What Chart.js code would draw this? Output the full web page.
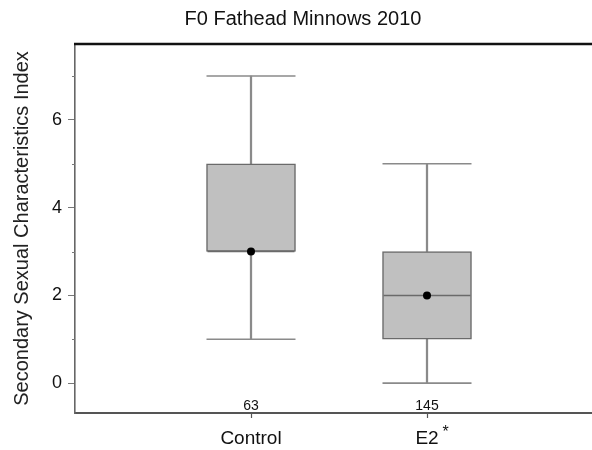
<!DOCTYPE html>
<html>
<head>
<meta charset="utf-8">
<script src="https://cdn.jsdelivr.net/npm/chart.js@4/dist/chart.umd.min.js"></script>
<style>
  html, body { margin: 0; padding: 0; background: #ffffff; }
  canvas { display: block; }
</style>
</head>
<body>
<canvas id="c" width="592" height="450"></canvas>
<script>
// ---- data ----
const chartTitle = 'F0 Fathead Minnows 2010';
const yAxisTitle = 'Secondary Sexual Characteristics Index';
const categories = ['Control', 'E2'];
const sigMarks   = ['', '*'];
const mins       = [1, 0];
const q1s        = [3, 1];
const medians    = [3, 2];
const q3s        = [5, 3];
const maxs       = [7, 5];
const means      = [3, 2];
const counts     = [63, 145];
const yMajorTicks = [0, 2, 4, 6];
const yMinorTicks = [1, 3, 5, 7];

const FONT = 'Liberation Sans, Arial, Helvetica, sans-serif';
const pos = categories.map((c, i) => i + 1);

const lowerWhiskers = pos.map((x, i) => ({ x, y: [mins[i], q1s[i]] }));
const upperWhiskers = pos.map((x, i) => ({ x, y: [q3s[i], maxs[i]] }));
const boxes = pos.map((x, i) => ({ x, y: [q1s[i], q3s[i]] }));
const caps = [];
pos.forEach((x, i) => { caps.push({ x, y: mins[i] }); caps.push({ x, y: maxs[i] }); });
const medianPts = pos.map((x, i) => ({ x, y: medians[i] }));
const meanPts = pos.map((x, i) => ({ x, y: means[i] }));

const BOX_W = 89;

const decorPlugin = {
  id: 'decor',
  afterDraw(chart) {
    const { ctx, chartArea: a, scales } = chart;
    const xs = scales.x, ys = scales.y;
    ctx.save();
    // title
    ctx.fillStyle = '#111';
    ctx.font = '20px ' + FONT;
    ctx.textAlign = 'center';
    ctx.textBaseline = 'middle';
    ctx.fillText(chartTitle, 303, 19);
    // top frame line
    ctx.strokeStyle = '#111';
    ctx.lineWidth = 2.5;
    ctx.beginPath();
    ctx.moveTo(a.left - 1, a.top);
    ctx.lineTo(a.right, a.top);
    ctx.stroke();
    // minor y ticks
    ctx.strokeStyle = '#777';
    ctx.lineWidth = 1;
    yMinorTicks.forEach(v => {
      const y = Math.round(ys.getPixelForValue(v)) + 0.5;
      ctx.beginPath();
      ctx.moveTo(a.left - 3, y);
      ctx.lineTo(a.left, y);
      ctx.stroke();
    });
    // counts
    ctx.fillStyle = '#111';
    ctx.font = '14px ' + FONT;
    ctx.textBaseline = 'alphabetic';
    counts.forEach((n, i) => {
      ctx.fillText(String(n), xs.getPixelForValue(pos[i]), a.bottom - 3);
    });
    // significance marks
    ctx.textAlign = 'left';
    sigMarks.forEach((m, i) => {
      if (!m) return;
      ctx.font = '19px ' + FONT;
      const lw = ctx.measureText(categories[i]).width;
      ctx.font = '16px ' + FONT;
      ctx.fillText(m, xs.getPixelForValue(pos[i]) + lw / 2 + 4, a.bottom + 24);
    });
    ctx.restore();
  }
};

new Chart(document.getElementById('c'), {
  type: 'bar',
  data: {
    datasets: [
      { type: 'bar', data: lowerWhiskers, backgroundColor: '#8a8a8a', barThickness: 1.6, grouped: false, order: 5 },
      { type: 'bar', data: upperWhiskers, backgroundColor: '#8a8a8a', barThickness: 1.6, grouped: false, order: 5 },
      { type: 'bar', data: boxes, backgroundColor: '#c0c0c0', borderColor: '#6a6a6a', borderWidth: 1.5,
        borderSkipped: false, barThickness: BOX_W, grouped: false, order: 3 },
      { type: 'line', data: caps, showLine: false, pointStyle: 'line', pointRadius: BOX_W / 2,
        borderColor: '#8a8a8a', borderWidth: 1.6, order: 4 },
      { type: 'line', data: medianPts, showLine: false, pointStyle: 'line', pointRadius: BOX_W / 2 - 1,
        borderColor: '#6a6a6a', borderWidth: 1.5, order: 2 },
      { type: 'line', data: meanPts, showLine: false, pointStyle: 'circle', pointRadius: 4,
        backgroundColor: '#000', borderColor: '#000', borderWidth: 0, order: 1 }
    ]
  },
  options: {
    responsive: false,
    animation: false,
    devicePixelRatio: 1,
    layout: { autoPadding: false, padding: { top: 44, right: 0, left: 0, bottom: 0 } },
    plugins: {
      legend: { display: false },
      title: { display: false },
      tooltip: { enabled: false }
    },
    scales: {
      x: {
        type: 'linear',
        offset: false,
        min: 0,
        max: 2.9375,
        afterBuildTicks: s => { s.ticks = pos.map(v => ({ value: v })); },
        afterFit: s => { s.height = 37; s.paddingLeft = 0; s.paddingRight = 0; },
        ticks: {
          callback: v => categories[v - 1] || '',
          font: { family: FONT, size: 19 },
          color: '#111',
          padding: 9,
          maxRotation: 0,
          autoSkip: false
        },
        grid: { offset: false, drawOnChartArea: false, tickLength: 5, tickColor: '#555', tickWidth: 1.2 },
        border: { color: '#555', width: 2 }
      },
      y: {
        type: 'linear',
        min: -0.68,
        max: 7.73,
        afterBuildTicks: s => { s.ticks = yMajorTicks.map(v => ({ value: v })); },
        afterFit: s => { s.width = 75; },
        ticks: {
          font: { family: FONT, size: 18 },
          color: '#111',
          padding: 6
        },
        grid: { drawOnChartArea: false, tickLength: 7, tickColor: '#777', tickWidth: 1 },
        border: { color: '#666', width: 1.6 },
        title: {
          display: true,
          text: yAxisTitle,
          font: { family: FONT, size: 20 },
          color: '#222',
          padding: { top: 10, bottom: 0 }
        }
      }
    }
  },
  plugins: [decorPlugin]
});
</script>
</body>
</html>
